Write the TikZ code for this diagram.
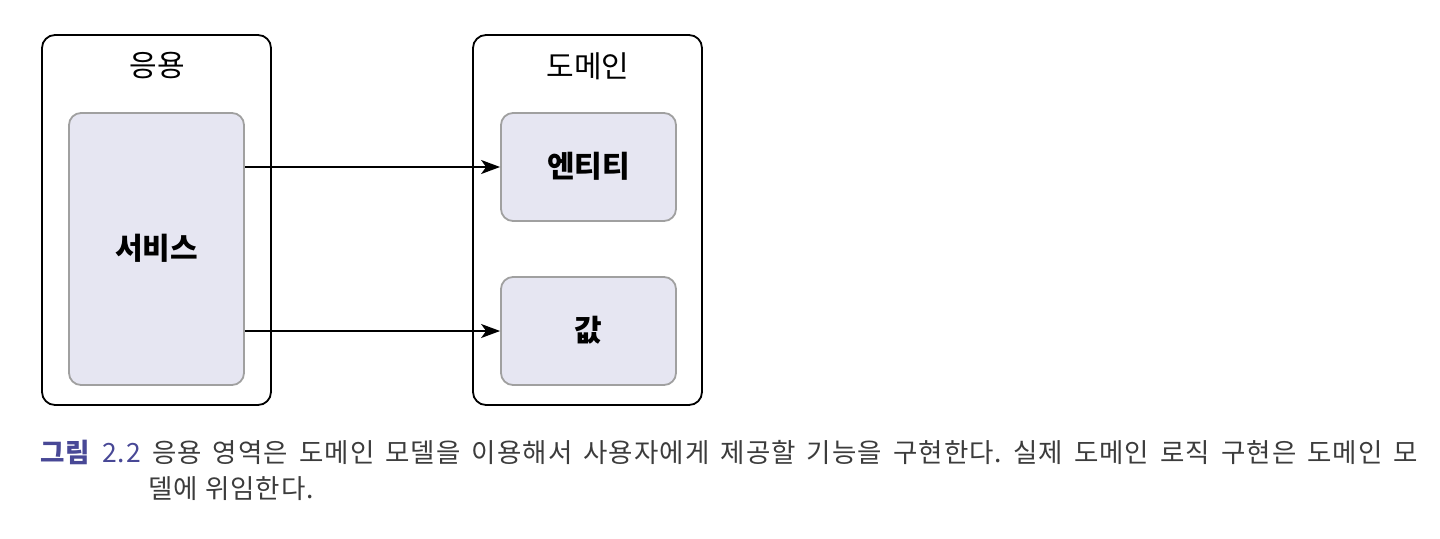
\documentclass[tikz,border=0pt]{standalone}
\usepackage{fontspec}
\newfontfamily\kr{Noto Sans CJK KR}
\newfontfamily\krcap[LetterSpace=4]{Noto Sans CJK KR}
\usetikzlibrary{arrows.meta}
\definecolor{boxfill}{RGB}{230,230,242}
\definecolor{boxline}{RGB}{160,160,160}
\definecolor{capblue}{RGB}{72,72,150}
\definecolor{captext}{RGB}{60,60,60}
\frenchspacing
\tikzset{
  outerbox/.style={draw=black, line width=1.8pt, rounded corners=13pt, fill=white},
  innerbox/.style={draw=boxline, line width=1.8pt, rounded corners=12pt, fill=boxfill},
  titletext/.style={font=\kr\fontsize{30}{33}\selectfont, text=black, inner sep=0pt},
  labeltext/.style={font=\kr\bfseries\fontsize{30}{33}\selectfont, text=black, inner sep=0pt},
  conn/.style={draw=black, line width=1.8pt, -{Stealth[length=19pt,width=14pt,inset=5pt]}},
  captionline/.style={font=\krcap\fontsize{26.5}{30}\selectfont, text=captext, inner sep=0pt, anchor=base west},
}
\begin{document}
\begin{tikzpicture}[x=1pt,y=-1pt]
\useasboundingbox (0,0) rectangle (1440,538);
% outer containers
\draw[outerbox] (42,35) rectangle (271,405);
\draw[outerbox] (473,35) rectangle (702,405);
\node[titletext] (apptitle) at (157,66) {응용};
\node[titletext] (domtitle) at (588,66) {도메인};
% inner boxes
\node[innerbox, minimum width=175pt, minimum height=272pt, inner sep=0pt] (service) at (156.5,249) {};
\node[labeltext] (servicelbl) at (156.5,248) {서비스};
\node[innerbox, minimum width=175pt, minimum height=108pt, inner sep=0pt] (entity) at (588.5,167) {};
\node[labeltext] (entitylbl) at (588.5,166) {엔티티};
\node[innerbox, minimum width=175pt, minimum height=108pt, inner sep=0pt] (value) at (588.5,331) {};
\node[labeltext] (valuelbl) at (588.5,330) {값};
% connectors
\draw[conn] (service.east |- entity.west) -- (entity.west);
\draw[conn] (service.east |- value.west) -- (value.west);
% caption
\node[captionline] (cap1) at (40,462) {\makebox[1378pt][s]{\textcolor{capblue}{\textbf{그림} 2.2} 응용 영역은 도메인 모델을 이용해서 사용자에게 제공할 기능을 구현한다. 실제 도메인 로직 구현은 도메인 모}};
\node[captionline] (cap2) at (148,498) {델에 위임한다.};
\end{tikzpicture}
\end{document}
